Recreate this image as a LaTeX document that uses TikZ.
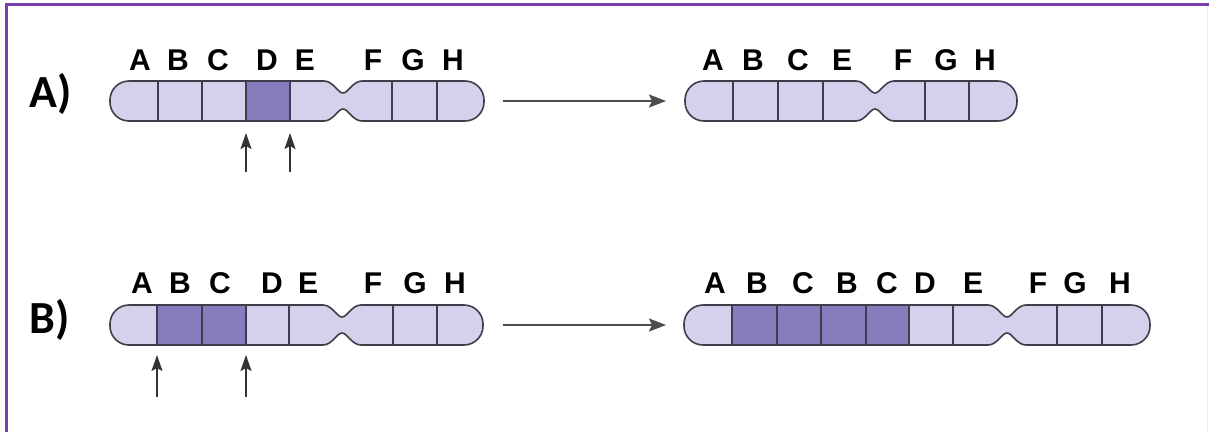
\documentclass[tikz,border=0pt]{standalone}
\usepackage{fontspec}
\setmainfont{Liberation Sans}
\newfontfamily\rowfont{Carlito}
\usetikzlibrary{arrows.meta}

\definecolor{bandlight}{RGB}{211,209,236}
\definecolor{banddark}{RGB}{134,124,190}
\definecolor{bandedge}{RGB}{62,62,74}
\definecolor{framepurple}{RGB}{124,62,172}

\tikzset{
	edge/.style={draw=bandedge, line width=1.6pt},
	bandlabel/.style={font=\fontsize{30}{30}\selectfont\bfseries, anchor=base, inner sep=0pt},
	rowlabel/.style={font=\rowfont\fontsize{46}{46}\selectfont\bfseries, anchor=base, inner sep=0pt},
	cutmark/.style={draw=black!80, line width=1.3pt, -{Stealth[length=16pt,width=11pt,inset=3pt]}},
	turnsinto/.style={draw=black!70, line width=2pt, -{Stealth[length=17pt,width=13pt,inset=3pt]}},
}

% outline: left x, top y, centromere x, right x
\newcommand{\chromoline}[4]{
	({#1+19},#2) -- ({#3-19},#2)
	.. controls ({#3-10},#2) and ({#3-5},{#2+12}) .. (#3,{#2+12})
	.. controls ({#3+5},{#2+12}) and ({#3+10},#2) .. ({#3+19},#2)
	-- ({#4-19},#2)
	.. controls ({#4-8.5},#2) and (#4,{#2+8.5}) .. (#4,{#2+19})
	-- (#4,{#2+21})
	.. controls (#4,{#2+31.5}) and ({#4-8.5},{#2+40}) .. ({#4-19},{#2+40})
	-- ({#3+19},{#2+40})
	.. controls ({#3+10},{#2+40}) and ({#3+5},{#2+28}) .. (#3,{#2+28})
	.. controls ({#3-5},{#2+28}) and ({#3-10},{#2+40}) .. ({#3-19},{#2+40})
	-- ({#1+19},{#2+40})
	.. controls ({#1+8.5},{#2+40}) and (#1,{#2+31.5}) .. (#1,{#2+21})
	-- (#1,{#2+19})
	.. controls (#1,{#2+8.5}) and ({#1+8.5},#2) .. ({#1+19},#2)
	-- cycle
}

% chromosome: left x, top y, centromere x, right x, band borders, dark bands
\newcommand{\chromosome}[6]{
	\fill[bandlight] \chromoline{#1}{#2}{#3}{#4};
	#6
	\foreach \x in {#5}{
		\draw[edge] (\x,#2) -- (\x,{#2+40});
	}
	\draw[edge] \chromoline{#1}{#2}{#3}{#4};
}

\begin{document}
\begin{tikzpicture}[x=1pt, y=-1pt]
	\useasboundingbox (0,0) rectangle (1209,432);

	% Frame
	\draw[framepurple, line width=3pt] (6,432) -- (6,4.5) -- (1209,4.5);
	\draw[black!8, line width=1.5pt] (1207.5,6) -- (1207.5,432);

	% Row labels
	\node[rowlabel] (row A) at (51,107) {A)};
	\node[rowlabel] (row B) at (50,333) {B)};

	% Chromosomes
	\chromosome{110}{81}{343}{484}{158,202,246,290,392,437}
		{\fill[banddark] (246,81) rectangle (290,121);}
	\chromosome{685}{81}{875}{1017}{733,778,823,925,969}{}
	\chromosome{110}{305}{342}{483}{157,202,246,289,393,437}
		{\fill[banddark] (157,305) rectangle (246,345);}
	\chromosome{684}{305}{1007}{1150}{732,777,821,866,909,953,1057,1102}
		{\fill[banddark] (732,305) rectangle (909,345);}

	% Band letters
	\foreach \x/\l [count=\i] in {140/A,178/B,218/C,267/D,305/E,373/F,413/G,453/H}{
		\node[bandlabel] (a1 \i) at (\x,70) {\l};
	}
	\foreach \x/\l [count=\i] in {713/A,753/B,798/C,842/E,903/F,946/G,985/H}{
		\node[bandlabel] (a2 \i) at (\x,70) {\l};
	}
	\foreach \x/\l [count=\i] in {142/A,180/B,220/C,272/D,308/E,373/F,415/G,455/H}{
		\node[bandlabel] (b1 \i) at (\x,293) {\l};
	}
	\foreach \x/\l [count=\i] in {715/A,757/B,803/C,847/B,887/C,925/D,973/E,1038/F,1075/G,1120/H}{
		\node[bandlabel] (b2 \i) at (\x,293) {\l};
	}

	% Break points
	\foreach \x [count=\i] in {246,290}{
		\coordinate (cut a\i) at (\x,172);
		\coordinate (tip a\i) at (\x,133);
		\draw[cutmark] (cut a\i) -- (tip a\i);
	}
	\foreach \x [count=\i] in {157,246}{
		\coordinate (cut b\i) at (\x,397);
		\coordinate (tip b\i) at (\x,355);
		\draw[cutmark] (cut b\i) -- (tip b\i);
	}

	% Before -> after
	\coordinate (a1 out) at (503,101);
	\coordinate (a2 in) at (666,101);
	\draw[turnsinto] (a1 out) -- (a2 in);
	\coordinate (b1 out) at (503,325);
	\coordinate (b2 in) at (666,325);
	\draw[turnsinto] (b1 out) -- (b2 in);
\end{tikzpicture}
\end{document}
